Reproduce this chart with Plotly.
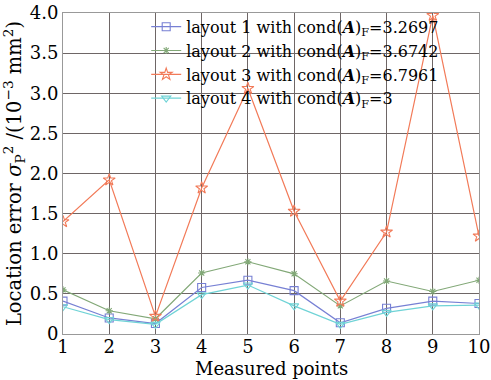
import plotly.graph_objects as go

points = list(range(1, 11))
layout1 = [0.41, 0.20, 0.13, 0.58, 0.67, 0.54, 0.14, 0.32, 0.41, 0.38]
layout2 = [0.55, 0.29, 0.19, 0.76, 0.90, 0.75, 0.35, 0.66, 0.53, 0.67]
layout3 = [1.40, 1.92, 0.22, 1.82, 3.06, 1.53, 0.41, 1.27, 3.97, 1.22]
layout4 = [0.34, 0.18, 0.12, 0.49, 0.61, 0.35, 0.12, 0.27, 0.35, 0.36]
names = [
    "layout 1 with cond(<b><i>A</i></b>)<sub>F</sub>=3.2697",
    "layout 2 with cond(<b><i>A</i></b>)<sub>F</sub>=3.6742",
    "layout 3 with cond(<b><i>A</i></b>)<sub>F</sub>=6.7961",
    "layout 4 with cond(<b><i>A</i></b>)<sub>F</sub>=3",
]
y_ticks = [0, 0.5, 1.0, 1.5, 2.0, 2.5, 3.0, 3.5, 4.0]
y_tick_text = ["0", "0.5", "1.0", "1.5", "2.0", "2.5", "3.0", "3.5", "4.0"]

colors = ["#7780d4", "#82a877", "#f27a58", "#6fd3d6"]
symbols = ["square-open", "asterisk-open", "star-open", "triangle-down-open"]
sizes = [8, 6, 9, 8]
series = [layout1, layout2, layout3, layout4]

FONT = "DejaVu Serif"
fig = go.Figure()
for vals, name, c, s, sz in zip(series, names, colors, symbols, sizes):
    fig.add_trace(go.Scatter(
        x=points, y=vals, mode="lines+markers", name=name,
        line=dict(color=c, width=1.2),
        marker=dict(symbol=s, size=sz, color=c, line=dict(color=c, width=1.1)),
    ))

# white panel behind legend hiding the grid but not the lines
fig.add_shape(type="rect", xref="paper", yref="paper", x0=0.21, x1=0.865, y0=0.755, y1=1.0,
              fillcolor="white", line=dict(width=0), layer="between")

fig.update_layout(
    width=491, height=380,
    margin=dict(l=63, r=12, t=13, b=46, autoexpand=False),
    paper_bgcolor="white", plot_bgcolor="white",
    font=dict(family=FONT, color="black", size=17),
    showlegend=True,
    legend=dict(x=0.2, y=1.01, xanchor="left", yanchor="top",
                bgcolor="rgba(0,0,0,0)", borderwidth=0,
                font=dict(family=FONT, size=16), tracegroupgap=0,
                itemwidth=30),
    xaxis=dict(range=[1, 10], tickvals=points, showgrid=True,
               gridcolor="#6e6666", gridwidth=1, zeroline=False,
               showline=True, linecolor="#999999", mirror=True,
               ticks="", tickfont=dict(size=18), ticklabelstandoff=-4),
    yaxis=dict(range=[0, 4], tickvals=y_ticks, ticktext=y_tick_text,
               showgrid=True, gridcolor="#6e6666", gridwidth=1, zeroline=False,
               showline=True, linecolor="#999999", mirror=True,
               ticks="", tickfont=dict(size=18),
               title=dict(text="Location error <i>σ</i><sub>P</sub><sup>2</sup> /(10<sup>−3</sup> mm<sup>2</sup>)",
                          font=dict(size=19.5), standoff=8)),
    annotations=[dict(text="Measured points", xref="paper", yref="paper",
                      x=0.5, y=0, yshift=-34, xanchor="center", yanchor="middle",
                      showarrow=False, font=dict(size=18))],
)
fig.write_html("out.html", config={"displayModeBar": False},
               post_script="document.body.style.margin='0';document.body.style.overflow='hidden';")
